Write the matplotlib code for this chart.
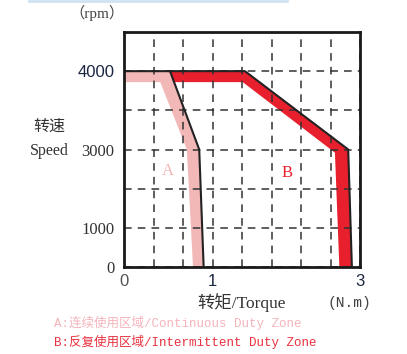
import numpy as np
import matplotlib
matplotlib.use("Agg")
import matplotlib.pyplot as plt
from matplotlib.lines import Line2D

# axis break points (value -> grid cell)
torque_keys = [0, 1, 3]
torque_grid = [0, 3, 8]
speed_keys = [0, 1000, 3000, 4000, 4500]
speed_grid = [0, 1, 3, 5, 6]

# zone A (continuous) : outer edge and inner edge of the band
a_outer_t = [0, 0.52, 0.85, 0.90]
a_outer_s = [4000, 4000, 3000, 0]
a_inner_t = [0, 0.41, 0.71, 0.78]
a_inner_s = [3860, 3860, 3000, 0]

# zone B (intermittent)
b_outer_t = [0.52, 1.44, 2.84, 2.89]
b_outer_s = [4000, 4000, 3000, 0]
b_inner_t = [0.56, 1.41, 2.66, 2.72]
b_inner_s = [3860, 3860, 2920, 0]

xtick_vals = [0, 1, 3]
ytick_vals = [0, 1000, 3000, 4000]

pink = "#f2b8b8"
red = "#e8202e"
serif_cjk = ["Liberation Serif", "Noto Sans CJK SC"]
mono_cjk = ["Liberation Mono", "Noto Sans CJK SC"]


def fx(v):
    return np.interp(v, torque_keys, torque_grid)


def ix(v):
    return np.interp(v, torque_grid, torque_keys)


def fy(v):
    return np.interp(v, speed_keys, speed_grid)


def iy(v):
    return np.interp(v, speed_grid, speed_keys)


W, H = 407, 354
fig = plt.figure(figsize=(W / 100, H / 100), dpi=100)
ax = fig.add_axes([124 / W, 1 - 267 / H, 236 / W, 235 / H])
ax.set_xscale("function", functions=(fx, ix))
ax.set_yscale("function", functions=(fy, iy))
ax.set_xlim(0, 3)
ax.set_ylim(0, 4500)
ax.set_axisbelow("line")  # grid above the fills, below the outlines

ax.fill(a_outer_t + a_inner_t[::-1], a_outer_s + a_inner_s[::-1],
        color=pink, lw=0, zorder=1)
ax.fill(b_outer_t + b_inner_t[::-1], b_outer_s + b_inner_s[::-1],
        color=red, lw=0, zorder=1)
ax.plot(a_outer_t, a_outer_s, color="#222222", lw=1.5, zorder=3)
ax.plot(b_outer_t, b_outer_s, color="#222222", lw=1.5, zorder=3)

ax.set_xticks(xtick_vals)
ax.set_xticklabels([str(v) for v in xtick_vals])
ax.set_yticks(ytick_vals)
ax.set_yticklabels([str(v) for v in ytick_vals])
ax.set_xticks(ix(np.arange(1, 8)), minor=True)
ax.set_yticks(iy(np.arange(1, 6)), minor=True)
ax.tick_params(which="both", length=0)
ax.tick_params(axis="x", pad=5, labelsize=12)
ax.tick_params(axis="y", pad=7, labelsize=12)
for lab in ax.get_xticklabels():
    lab.set_family("Liberation Sans")
    lab.set_color("#1a2540")
ax.get_xticklabels()[0].set_color("#555555")
for lab in ax.get_yticklabels():
    lab.set_family("Liberation Serif")
    lab.set_color("#333333")
ax.get_yticklabels()[-1].set_family("Liberation Sans")
ax.get_yticklabels()[-1].set_color("#1a2540")
ax.grid(which="both", color="#333333", lw=1.1, ls=(0, (5, 4)))
for s in ax.spines.values():
    s.set_linewidth(2)
    s.set_color("#1a1a1a")
    s.set_zorder(4)

ax.text(0.50, 2450, "A", color=pink, fontsize=12, family="Liberation Serif",
        ha="center", va="center")
ax.text(2.01, 2400, "B", color=red, fontsize=12, family="Liberation Serif",
        ha="center", va="center")


def ftxt(x, y, s, fam, **kw):
    fig.text(x / W, 1 - y / H, s, family=fam, ha="center", va="center", **kw)


ftxt(97, 13, "（rpm）", serif_cjk, fontsize=11, color="#444444")
ftxt(49, 127, "转速", serif_cjk, fontsize=11.5, color="#333333")
ftxt(49, 151, "Speed", serif_cjk, fontsize=11.5, color="#333333")
ftxt(242, 303, "转矩/Torque", serif_cjk, fontsize=12.5, color="#333333")
ftxt(349, 303, "(N.m)", mono_cjk, fontsize=10.5, color="#444444")
fig.text(54 / W, 1 - 323 / H, "A:连续使用区域/Continuous Duty Zone",
         family=mono_cjk, fontsize=9, ha="left", va="center", color="#f4b4ba")
fig.text(54 / W, 1 - 342 / H, "B:反复使用区域/Intermittent Duty Zone",
         family=mono_cjk, fontsize=9, ha="left", va="center", color="#e8303e")

fig.add_artist(Line2D([29 / W, 287 / W], [1 - 0.5 / H, 1 - 0.5 / H],
                      color="#cfe3f3", lw=2))

fig.savefig("out.png", dpi=100)
